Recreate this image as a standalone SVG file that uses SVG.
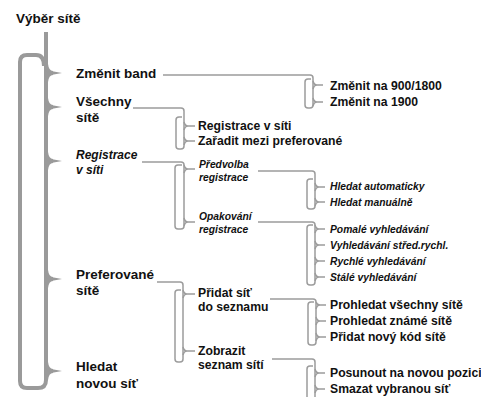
<svg xmlns="http://www.w3.org/2000/svg" width="481" height="397" viewBox="0 0 481 397">
<style>
text{fill:#111;font-family:"Liberation Sans",Arial,sans-serif;font-weight:bold}
.m{font-size:13.5px}
.mi{font-size:12px;font-style:italic}
.s{font-size:12.2px}
.si{font-size:10.3px;font-style:italic}
.thick{fill:none;stroke:#9a9a9a;stroke-width:4}
.thin{fill:none;stroke:#9c9c9c;stroke-width:1.5}
.tip{fill:#9a9a9a}
</style>
<rect width="481" height="397" fill="#fff"/>
<g id="connectors">
  <!-- main trunk and loop -->
  <path class="thick" d="M46,32 V372"/>
  <path class="thick" d="M44,66 Q44,55 36,55 H27 Q20,55 20,62 V381 Q20,388 27,388 H38 Q46,388 46,380 V372"/>
  <path class="thick" d="M46,64 Q47,73 53,73 M46,82 Q47,73 53,73 M46,98 Q47,107 53,107 M46,116 Q47,107 53,107 M46,152 Q47,161 53,161 M46,170 Q47,161 53,161 M46,270 Q47,279 53,279 M46,288 Q47,279 53,279 M46,362 Q47,371 53,371 M46,380 Q47,371 53,371"/>
  <polygon class="tip" points="51,71 62,73 51,75"/>
  <polygon class="tip" points="51,105 62,107 51,109"/>
  <polygon class="tip" points="51,159 62,161 51,163"/>
  <polygon class="tip" points="51,277 62,279 51,281"/>
  <polygon class="tip" points="51,369 62,371 51,373"/>
  <!-- A -->
  <path class="thin" d="M163,75 H310 Q313,75 313,78 V105 Q313,108 310,108 H308 Q305,108 305,105 V82 Q305,79 308,79 H311"/>
  <path class="thin" d="M313,81 Q314,85 317,85 H323 M313,89 Q314,85 317,85 M313,98 Q314,102 317,102 H323 M313,106 Q314,102 317,102"/>
  <!-- B -->
  <path class="thin" d="M133,108 H181 Q184,108 184,111 V146 Q184,149 181,149 H179 Q176,149 176,146 V120 Q176,117 179,117 H182"/>
  <path class="thin" d="M184,122 Q185,126 188,126 H195 M184,130 Q185,126 188,126 M184,137 Q185,141 188,141 H195 M184,145 Q185,141 188,141"/>
  <!-- C -->
  <path class="thin" d="M142,162 H181 Q184,162 184,165 V226 Q184,229 181,229 H178 Q175,229 175,226 V168 Q175,165 178,165 H182"/>
  <path class="thin" d="M184,165 Q185,169 188,169 H195 M184,173 Q185,169 188,169 M184,218 Q185,222 188,222 H195 M184,226 Q185,222 188,222"/>
  <!-- D -->
  <path class="thin" d="M258,171 H312 Q315,171 315,174 V206 Q315,209 312,209 H310 Q307,209 307,206 V182 Q307,179 310,179 H313"/>
  <path class="thin" d="M315,183 Q316,187 319,187 H325 M315,191 Q316,187 319,187 M315,198 Q316,202 319,202 H325 M315,206 Q316,202 319,202"/>
  <!-- E -->
  <path class="thin" d="M258,222 H312 Q315,222 315,225 V282 Q315,285 312,285 H310 Q307,285 307,282 V228 Q307,225 310,225 H313"/>
  <path class="thin" d="M315,225 Q316,229 319,229 H325 M315,233 Q316,229 319,229 M315,241 Q316,245 319,245 H325 M315,249 Q316,245 319,245 M315,257 Q316,261 319,261 H325 M315,265 Q316,261 319,261 M315,273 Q316,277 319,277 H325 M315,281 Q316,277 319,277"/>
  <!-- F -->
  <path class="thin" d="M157,282 H180 Q183,282 183,285 V359 Q183,362 180,362 H178 Q175,362 175,359 V293 Q175,290 178,290 H181"/>
  <path class="thin" d="M183,290 Q184,294 187,294 H195 M183,298 Q184,294 187,294 M183,347 Q184,351 187,351 H195 M183,355 Q184,351 187,351"/>
  <!-- G -->
  <path class="thin" d="M270,299 H313 Q316,299 316,302 V342 Q316,345 313,345 H311 Q308,345 308,342 V305 Q308,302 311,302 H314"/>
  <path class="thin" d="M316,302 Q317,305 320,305 H326 M316,309 Q317,305 320,305 M316,317 Q317,321 320,321 H326 M316,325 Q317,321 320,321 M316,333 Q317,337 320,337 H326 M316,341 Q317,337 320,337"/>
  <!-- H -->
  <path class="thin" d="M272,359 H312 Q315,359 315,362 V400 M307,400 V369 Q307,366 310,366 H313"/>
  <path class="thin" d="M315,369 Q316,373 319,373 H325 M315,377 Q316,373 319,373 M315,385 Q316,389 319,389 H325 M315,393 Q316,389 319,389"/>
</g>
<g id="root"><text class="m" x="16" y="23">Výběr sítě</text></g>
<g id="zmenit-band"><text class="m" x="76" y="78">Změnit band</text></g>
<g id="vsechny-site"><text class="m" x="76" y="106">Všechny</text><text class="m" x="76" y="122">sítě</text></g>
<g id="registrace-main"><text class="mi" x="76" y="159">Registrace</text><text class="mi" x="76" y="174">v síti</text></g>
<g id="preferovane-site"><text class="m" x="76" y="279">Preferované</text><text class="m" x="76" y="295">sítě</text></g>
<g id="hledat-novou"><text class="m" x="76" y="371">Hledat</text><text class="m" x="76" y="388">novou síť</text></g>
<g id="zmenit-900"><text class="s" x="330" y="90">Změnit na 900/1800</text></g>
<g id="zmenit-1900"><text class="s" x="330" y="106">Změnit na 1900</text></g>
<g id="registrace-v-siti"><text class="s" x="198" y="130">Registrace v síti</text></g>
<g id="zaradit"><text class="s" x="198" y="145">Zařadit mezi preferované</text></g>
<g id="predvolba"><text class="si" x="199" y="168">Předvolba</text><text class="si" x="199" y="181">registrace</text></g>
<g id="hledat-auto"><text class="si" x="330" y="190">Hledat automaticky</text></g>
<g id="hledat-man"><text class="si" x="330" y="206">Hledat manuálně</text></g>
<g id="opakovani"><text class="si" x="199" y="220">Opakování</text><text class="si" x="199" y="233">registrace</text></g>
<g id="pomale"><text class="si" x="330" y="233">Pomalé vyhledávání</text></g>
<g id="stred"><text class="si" x="330" y="249">Vyhledávání střed.rychl.</text></g>
<g id="rychle"><text class="si" x="330" y="265">Rychlé vyhledávání</text></g>
<g id="stale"><text class="si" x="330" y="281">Stálé vyhledávání</text></g>
<g id="pridat-sit"><text class="s" x="198" y="297">Přidat síť</text><text class="s" x="198" y="311">do seznamu</text></g>
<g id="zobrazit"><text class="s" x="198" y="355">Zobrazit</text><text class="s" x="198" y="369">seznam sítí</text></g>
<g id="prohledat-vse"><text class="s" x="330" y="309">Prohledat všechny sítě</text></g>
<g id="prohledat-zname"><text class="s" x="330" y="325">Prohledat známé sítě</text></g>
<g id="pridat-kod"><text class="s" x="330" y="341">Přidat nový kód sítě</text></g>
<g id="posunout"><text class="s" x="330" y="377">Posunout na novou pozici</text></g>
<g id="smazat"><text class="s" x="330" y="393">Smazat vybranou síť</text></g>
</svg>
